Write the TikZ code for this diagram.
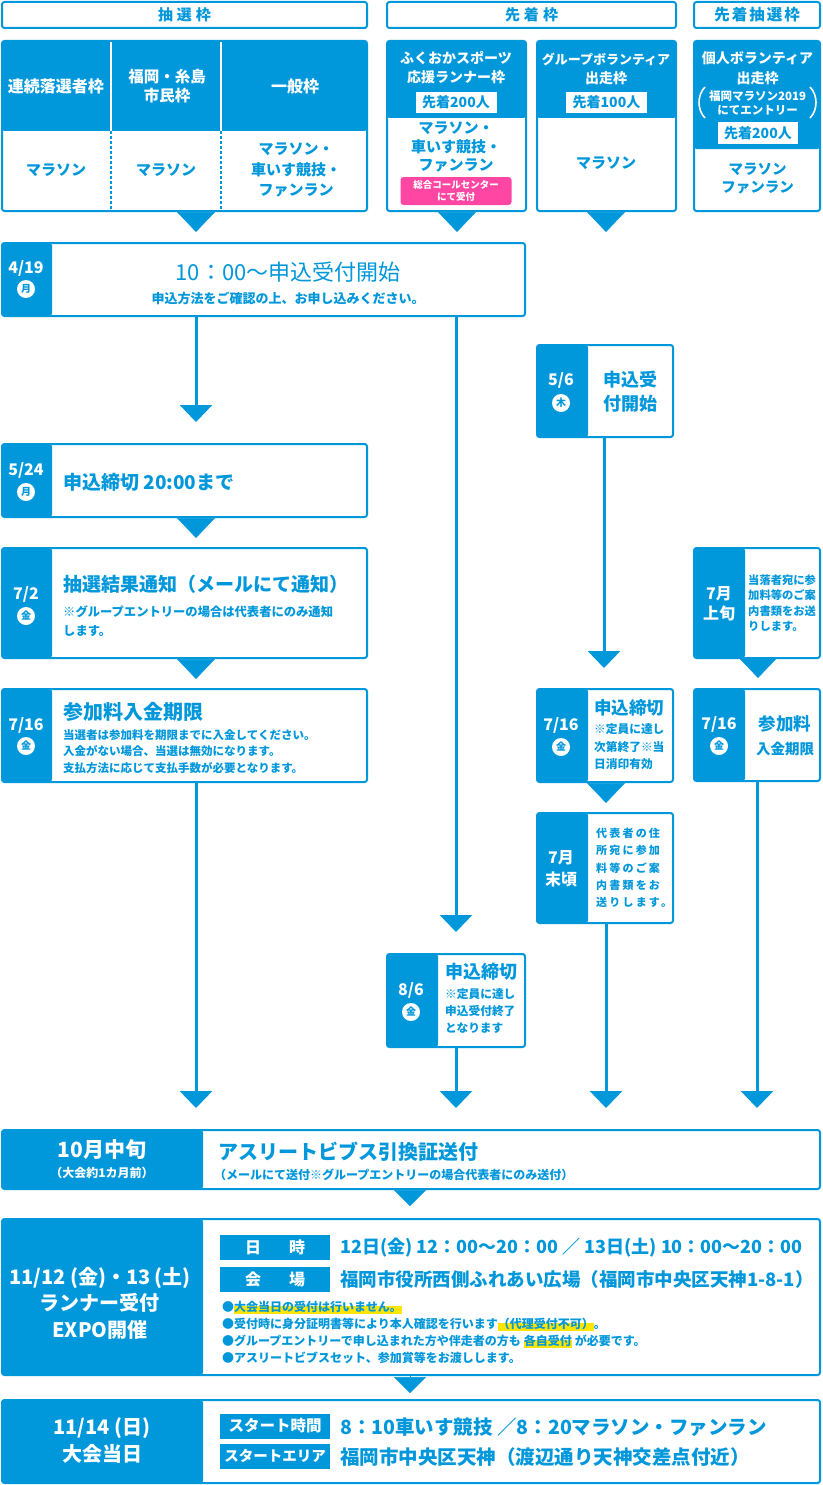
\documentclass[tikz,border=0pt]{standalone}
\usepackage{fontspec}
\setmainfont{Noto Sans CJK JP}
\usetikzlibrary{arrows.meta,fit}
\definecolor{bl}{HTML}{0097DB}
\definecolor{pk}{HTML}{FF46A3}
\definecolor{yl}{HTML}{FFE500}
\newcommand\fsz[2]{\fontsize{#1}{#2}\selectfont}
\newsavebox\hlbx
\newcommand\hlt[1]{\sbox\hlbx{#1}\rlap{\textcolor{yl}{\rule[-0.35ex]{\wd\hlbx}{1.15ex}}}\usebox\hlbx}
\tikzset{
  frame/.style={draw=bl, line width=2pt, rounded corners=2.5pt, fill=white, inner sep=0pt, outer sep=0pt},
  datebox/.style={frame, path picture={\fill[bl] (path picture bounding box.north west) rectangle ([xshift=#1]path picture bounding box.south west);}},
  topbox/.style={frame, path picture={\fill[bl] (path picture bounding box.north west) rectangle ([yshift=-#1]path picture bounding box.north east);}},
  ht/.style={text=bl, inner sep=0pt, font=\fsz{15}{18}\bfseries},
  tb/.style={text=bl, inner sep=0pt},
  hw/.style={text=white, inner sep=0pt},
  dl/.style={text=white, inner sep=0pt, font=\fsz{16}{18}\bfseries},
  dc/.style={circle, fill=white, text=bl, minimum size=18pt, inner sep=0pt, font=\fsz{10}{10}\bfseries},
  wlab/.style={fill=white, text=bl, minimum width=81pt, minimum height=21pt, inner sep=0pt, font=\fsz{14}{16}\bfseries},
  pkl/.style={fill=pk, rounded corners=3pt, minimum width=111pt, minimum height=28pt, text=white, inner sep=0pt, align=center, font=\fsz{9.5}{12}\bfseries},
  lab/.style={fill=bl, text=white, minimum width=110pt, minimum height=25pt, inner sep=0pt, font=\fsz{16}{18}\bfseries},
  flow/.style={draw=bl, line width=3pt, -{Triangle[width=32pt,length=17pt]}},
  tipst/.style={draw=bl, line width=0.5pt, -{Triangle[width=38pt,length=20pt]}},
  tipsm/.style={draw=bl, line width=0.5pt, -{Triangle[width=32pt,length=16pt]}},
}
\begin{document}
\begin{tikzpicture}[x=1pt,y=-1pt]
\useasboundingbox (0,0) rectangle (822,1485);

% ---------- header row ----------
\node[frame, fit={(2,2) (367,28)}] (h1) {};
\node[ht] (h1t) at (h1.center) {抽\hspace{4pt}選\hspace{4pt}枠};
\node[frame, fit={(387,2) (676,28)}] (h2) {};
\node[ht] (h2t) at (h2.center) {先\hspace{4pt}着\hspace{4pt}枠};
\node[frame, fit={(694,2) (820,28)}] (h3) {};
\node[ht, font=\fsz{15.5}{18}\bfseries] (h3t) at (h3.center) {先\hspace{2pt}着\hspace{2pt}抽\hspace{2pt}選\hspace{2pt}枠};

% ---------- box A ----------
\node[topbox=90pt, fit={(2,41) (367,211)}] (bA) {};
\draw[white, line width=1.5pt] (111,42) -- (111,131);
\draw[white, line width=1.5pt] (221,42) -- (221,131);
\draw[bl, line width=1.5pt, dash pattern=on 3pt off 2pt] (111,131) -- (111,210);
\draw[bl, line width=1.5pt, dash pattern=on 3pt off 2pt] (221,131) -- (221,210);
\node[hw, font=\fsz{16}{19}\bfseries] (a1h) at (56,86) {連続落選者枠};
\node[hw, align=center, font=\fsz{15.5}{19}\bfseries] (a2h) at (167,86) {福岡・糸島\\市民枠};
\node[hw, font=\fsz{16}{19}\bfseries] (a3h) at (295,86) {一般枠};
\node[tb, font=\fsz{15}{18}\bfseries] (a1b) at (56,170) {マラソン};
\node[tb, font=\fsz{15}{18}\bfseries] (a2b) at (166,170) {マラソン};
\node[tb, align=center, font=\fsz{15}{20.5}\bfseries] (a3b) at (296,170) {マラソン・\\車いす競技・\\ファンラン};

% ---------- box B ----------
\node[topbox=77pt, fit={(387,41) (526,211)}] (bB) {};
\node[hw, align=center, font=\fsz{14}{19}\bfseries] (b1h) at (456,67.5) {ふくおかスポーツ\\応援ランナー枠};
\node[wlab] (b1l) at (456,102.5) {先着200人};
\node[tb, align=center, font=\fsz{15}{18.5}\bfseries] (b1b) at (456,147) {マラソン・\\車いす競技・\\ファンラン};
\node[pkl] (b1p) at (456,191) {総合コールセンター\\にて受付};

% ---------- box C ----------
\node[topbox=77pt, fit={(537,41) (676,211)}] (bC) {};
\node[hw, align=center, font=\fsz{13}{19}\bfseries] (c1h) at (606,68.5) {グループボランティア\\{\fsz{14}{19}出走枠}};
\node[wlab] (c1l) at (606.5,102.5) {先着100人};
\node[tb, font=\fsz{15}{18}\bfseries] (c1b) at (606,163) {マラソン};

% ---------- box D ----------
\node[topbox=108pt, fit={(694,41) (820,211)}] (bD) {};
\node[hw, align=center, font=\fsz{14}{20}\bfseries] (d1h) at (757.5,68) {個人ボランティア\\出走枠};
\node[hw, align=center, font=\fsz{11.5}{14}\bfseries] (d1s) at (757.5,103) {福岡マラソン2019\\にてエントリー};
\draw[white, line width=1.6pt] (705,87) .. controls (697,95) and (697,110) .. (705,118);
\draw[white, line width=1.6pt] (810,87) .. controls (818,95) and (818,110) .. (810,118);
\node[wlab, minimum width=80pt] (d1l) at (758,133) {先着200人};
\node[tb, align=center, font=\fsz{14.5}{17.5}\bfseries] (d1b) at (757.5,178.5) {マラソン\\ファンラン};

% tips under top boxes
\coordinate (tA) at (196,232);
\coordinate (tB) at (457,232);
\coordinate (tC) at (606,232);
\draw[tipst] (bA.south -| tA) -- (tA);
\draw[tipst] (bB.south -| tB) -- (tB);
\draw[tipst] (bC.south -| tC) -- (tC);

% ---------- 4/19 ----------
\node[datebox=50pt, fit={(2,243) (525,316)}] (b419) {};
\node[dl] (b419d) at (26,268) {4/19};
\node[dc] (b419c) at (26,289) {月};
\node[tb, font=\fsz{22}{24}] (b419t) at (288,272) {10：00～申込受付開始};
\node[tb, font=\fsz{13}{15}\bfseries] (b419s) at (288,298) {申込方法をご確認の上、お申し込みください。};
\coordinate (e1) at (196,422);
\coordinate (e2) at (456,932);
\draw[flow] (b419.south -| e1) -- (e1);
\draw[flow] (b419.south -| e2) -- (e2);

% ---------- 5/24 ----------
\node[datebox=50pt, fit={(2,444) (367,517)}] (b524) {};
\node[dl] (b524d) at (26,470) {5/24};
\node[dc] (b524c) at (26,492) {月};
\node[tb, anchor=west, font=\fsz{19}{22}\bfseries] (b524t) at (63,482) {申込締切 20:00まで};
\coordinate (t524) at (196,538);
\draw[tipst] (b524.south -| t524) -- (t524);

% ---------- 7/2 ----------
\node[datebox=50pt, fit={(2,548) (367,658)}] (b702) {};
\node[dl] (b702d) at (26,594) {7/2};
\node[dc] (b702c) at (26,616) {金};
\node[tb, anchor=west, font=\fsz{19}{22}\bfseries] (b702t) at (63,584) {抽選結果通知（メールにて通知）};
\node[tb, anchor=west, align=left, font=\fsz{12.3}{19}\bfseries] (b702s) at (63,621.5) {※グループエントリーの場合は代表者にのみ通知\\します。};
\coordinate (t702) at (196,679);
\draw[tipst] (b702.south -| t702) -- (t702);

% ---------- 7/16 left ----------
\node[datebox=50pt, fit={(2,689) (367,782)}] (b716a) {};
\node[dl] (b716ad) at (26,725) {7/16};
\node[dc] (b716ac) at (26,746) {金};
\node[tb, anchor=west, font=\fsz{20}{22}\bfseries] (b716at) at (63,712) {参加料入金期限};
\node[tb, anchor=west, align=left, font=\fsz{11.5}{16.5}\bfseries] (b716as) at (63,751.5) {当選者は参加料を期限までに入金してください。\\入金がない場合、当選は無効になります。\\支払方法に応じて支払手数が必要となります。};
\coordinate (e3) at (196,1108);
\draw[flow] (b716a.south -| e3) -- (e3);

% ---------- 5/6 ----------
\node[datebox=51pt, fit={(537,345) (673,437)}] (b506) {};
\node[dl] (b506d) at (561,380) {5/6};
\node[dc] (b506c) at (561,403) {木};
\node[tb, align=center, font=\fsz{18}{24}\bfseries] (b506t) at (630,392) {申込受\\付開始};
\coordinate (e5) at (604,668);
\draw[flow] (b506.south -| e5) -- (e5);

% ---------- 7/16 C ----------
\node[datebox=51pt, fit={(537,689) (673,782)}] (b716c) {};
\node[dl] (b716cd) at (561,725) {7/16};
\node[dc] (b716cc) at (561,747) {金};
\node[tb, anchor=west, font=\fsz{17.5}{20}\bfseries] (b716ct) at (594,708) {申込締切};
\node[tb, anchor=west, align=left, font=\fsz{11.7}{17.5}\bfseries] (b716cs) at (594,747) {※定員に達し\\次第終了※当\\日消印有効};
\coordinate (t716c) at (606,803);
\draw[tipst] (b716c.south -| t716c) -- (t716c);

% ---------- 7月末頃 ----------
\node[datebox=51pt, fit={(537,813) (673,923)}] (bend7) {};
\node[dl, align=center, font=\fsz{16}{22}\bfseries] (bend7d) at (561,869) {7月\\末頃};
\node[tb, anchor=west, align=left, font={\fsz{11}{17.3}\bfseries\addfontfeatures{LetterSpace=20}}] (bend7t) at (596,868) {代表者の住\\所宛に参加\\料等のご案\\内書類をお\\送りします。};
\coordinate (e7) at (606,1108);
\draw[flow] (bend7.south -| e7) -- (e7);

% ---------- 8/6 ----------
\node[datebox=51pt, fit={(387,954) (525,1047)}] (b806) {};
\node[dl] (b806d) at (411,990) {8/6};
\node[dc] (b806c) at (411,1012) {金};
\node[tb, anchor=west, font=\fsz{18}{20}\bfseries] (b806t) at (445,972) {申込締切};
\node[tb, anchor=west, align=left, font=\fsz{11.7}{17}\bfseries] (b806s) at (445,1011) {※定員に達し\\申込受付終了\\となります};
\coordinate (e8) at (456,1108);
\draw[flow] (b806.south -| e8) -- (e8);

% ---------- 7月上旬 ----------
\node[datebox=51pt, fit={(694,548) (820,658)}] (bjul) {};
\node[dl, align=center, font=\fsz{16}{20}\bfseries] (bjuld) at (719,604) {7月\\上旬};
\node[tb, anchor=west, align=left, font=\fsz{11.3}{15.5}\bfseries] (bjult) at (748,603) {当落者宛に参\\加料等のご案\\内書類をお送\\りします。};
\coordinate (tjul) at (758,678);
\draw[tipst] (bjul.south -| tjul) -- (tjul);

% ---------- 7/16 D ----------
\node[datebox=51pt, fit={(694,689) (820,781)}] (b716d) {};
\node[dl] (b716dd) at (719,724) {7/16};
\node[dc] (b716dc) at (719,746) {金};
\node[tb, align=center, font=\fsz{17.5}{24}\bfseries] (b716dt) at (785,736) {参加料\\{\fsz{14.5}{24}入金期限}};
\coordinate (e10) at (757,1108);
\draw[flow] (b716d.south -| e10) -- (e10);

% ---------- 10月中旬 ----------
\node[datebox=201pt, fit={(2,1130) (820,1189)}] (boct) {};
\node[dl, font=\fsz{21}{24}\bfseries] (boctd) at (102,1150) {10月中旬};
\node[dl, font=\fsz{12}{14}\bfseries] (bocts) at (102,1173) {（大会約1カ月前）};
\node[tb, anchor=west, font=\fsz{20}{22}\bfseries] (boctt) at (218,1152) {アスリートビブス引換証送付};
\node[tb, anchor=west, font=\fsz{12}{14}\bfseries] (boctu) at (214,1175) {（メールにて送付※グループエントリーの場合代表者にのみ送付）};
\coordinate (toct) at (410,1206);
\draw[tipsm] (boct.south -| toct) -- (toct);

% ---------- 11/12-13 ----------
\node[datebox=201pt, fit={(2,1219) (820,1375)}] (bexpo) {};
\node[dl, align=center, font=\fsz{20}{26.5}\bfseries] (bexpod) at (100,1303) {11/12 (金)・13 (土)\\ランナー受付\\EXPO開催};
\node[lab] (lt1) at (275,1247) {日\hspace{28pt}時};
\node[lab] (lt2) at (275,1279) {会\hspace{28pt}場};
\node[tb, anchor=west, font=\fsz{18}{20}\bfseries] (et1) at (340,1248) {12日(金) 12：00～20：00 ／ 13日(土) 10：00～20：00};
\node[tb, anchor=west, font=\fsz{18.5}{20}\bfseries] (et2) at (340,1279) {福岡市役所西側ふれあい広場（福岡市中央区天神1-8-1）};
\node[tb, anchor=west, align=left, font=\fsz{12}{17}\bfseries] (ebul) at (222,1332.5) {●\hlt{大会当日の受付は行いません。}\\●受付時に身分証明書等により本人確認を行います\hlt{（代理受付不可）}。\\●グループエントリーで申し込まれた方や伴走者の方も\hspace{3pt}\hlt{各自受付}\hspace{3pt}が必要です。\\●アスリートビブスセット、参加賞等をお渡しします。};
\coordinate (texpo) at (410,1393);
\draw[tipsm] (bexpo.south -| texpo) -- (texpo);

% ---------- 11/14 ----------
\node[datebox=201pt, fit={(2,1400) (820,1483)}] (brace) {};
\node[dl, align=center, font=\fsz{20}{27}\bfseries] (braced) at (102,1441) {11/14 (日)\\大会当日};
\node[lab, font=\fsz{15.5}{17}\bfseries] (ls1) at (275,1426) {スタート時間};
\node[lab, font=\fsz{14.5}{17}\bfseries] (ls2) at (275,1456) {スタートエリア};
\node[tb, anchor=west, font=\fsz{19.5}{22}\bfseries] (rt1) at (340,1427) {8：10車いす競技 ／8：20マラソン・ファンラン};
\node[tb, anchor=west, font=\fsz{19.5}{22}\bfseries] (rt2) at (340,1457) {福岡市中央区天神（渡辺通り天神交差点付近）};
\end{tikzpicture}
\end{document}
